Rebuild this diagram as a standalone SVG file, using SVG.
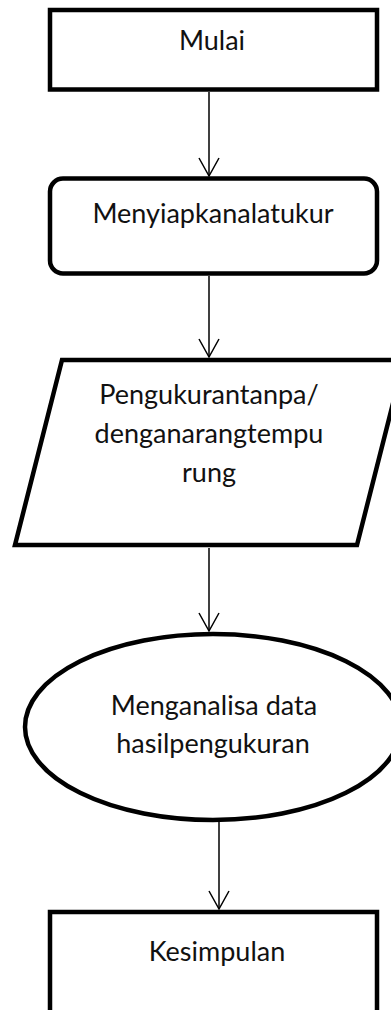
<svg xmlns="http://www.w3.org/2000/svg" width="391" height="1010" viewBox="0 0 391 1010">
<style>
.box{fill:#fff;stroke:#000;stroke-width:4.5}
.lbl{font-family:Lato,"Liberation Sans",sans-serif;font-size:27px;fill:#111;text-anchor:middle}
.conn{stroke:#000;stroke-width:1.5;fill:none}
</style>
<defs>
<marker id="ah" markerUnits="userSpaceOnUse" markerWidth="20" markerHeight="22" refX="18" refY="10" orient="auto" overflow="visible">
<path d="M0,0 L18,10 L0,20" fill="none" stroke="#000" stroke-width="1.5"/>
</marker>
</defs>
<rect width="391" height="1010" fill="#fff"/>
<g id="connectors">
<line class="conn" x1="209" y1="92" x2="209" y2="176" marker-end="url(#ah)"/>
<line class="conn" x1="209" y1="276" x2="209" y2="357" marker-end="url(#ah)"/>
<line class="conn" x1="209" y1="548" x2="209" y2="631" marker-end="url(#ah)"/>
<line class="conn" x1="219" y1="822" x2="219" y2="909" marker-end="url(#ah)"/>
</g>
<g id="mulai">
<rect class="box" x="50" y="10" width="327" height="79.5"/>
<text class="lbl" x="212" y="50">Mulai</text>
</g>
<g id="menyiapkan">
<rect class="box" x="50" y="178.5" width="327" height="95" rx="13"/>
<text class="lbl" x="213" y="223">Menyiapkanalatukur</text>
</g>
<g id="pengukuran">
<polygon class="box" stroke-width="5" points="62,360 404,360 357,545 15,545"/>
<text class="lbl" x="209" y="404">Pengukurantanpa/</text>
<text class="lbl" x="209" y="443">denganarangtempu</text>
<text class="lbl" x="209" y="482">rung</text>
</g>
<g id="analisa">
<ellipse class="box" stroke-width="5.5" cx="213" cy="727" rx="188" ry="93"/>
<text class="lbl" x="214" y="715">Menganalisa data</text>
<text class="lbl" x="213" y="753">hasilpengukuran</text>
</g>
<g id="kesimpulan">
<rect class="box" x="50" y="912" width="327" height="110"/>
<text class="lbl" x="217" y="961">Kesimpulan</text>
</g>
</svg>
